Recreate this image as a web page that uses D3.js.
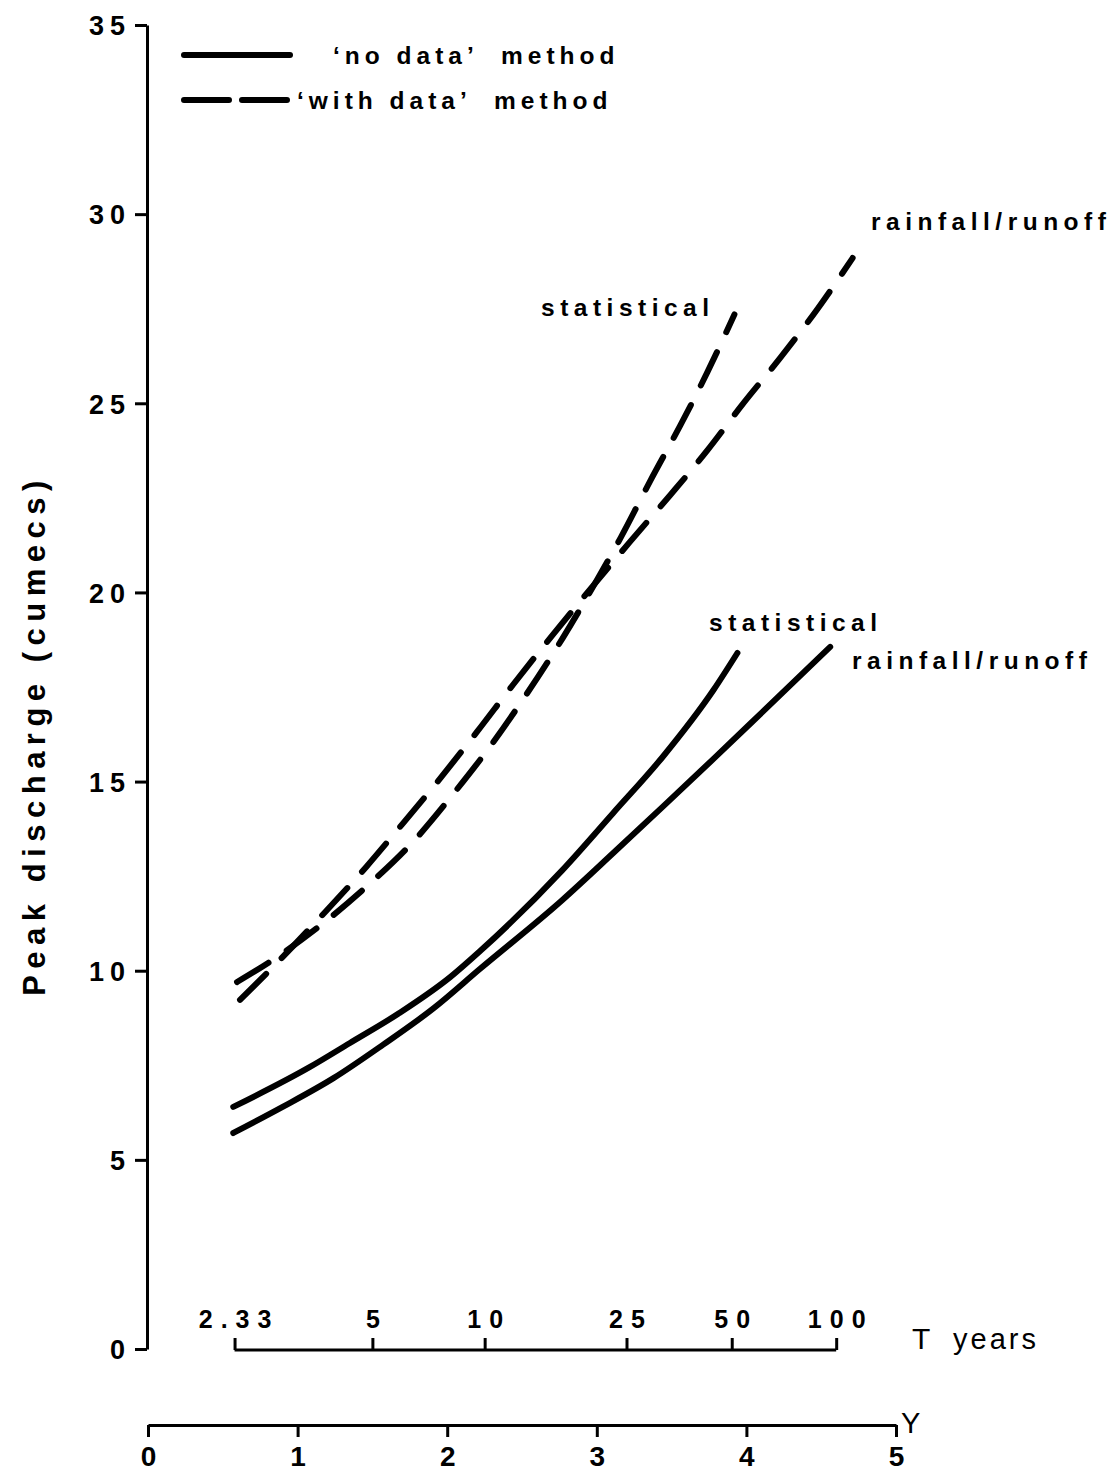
<!DOCTYPE html>
<html>
<head>
<meta charset="utf-8">
<script src="https://cdn.jsdelivr.net/npm/d3@7"></script>
<style>
  html, body { margin: 0; padding: 0; background: #fff; }
  svg text { font-family: "Liberation Sans", Arial, sans-serif; font-weight: bold; fill: #000; white-space: pre; }
</style>
</head>
<body>
<svg id="chart" width="1113" height="1472"></svg>
<script>
// ---- Data (reduced variate Y on x, peak discharge in cumecs on y) ----
const qTicks = [0, 5, 10, 15, 20, 25, 30, 35];
const yTicks = [0, 1, 2, 3, 4, 5];
const tValues = [2.33, 5, 10, 25, 50, 100];
const tLabels = ["2.33", "5", "10", "25", "50", "100"];

// 'no data' method
const noDataStatY = [0.57, 1.08, 1.35, 1.68, 2.02, 2.22, 2.77, 3.11, 3.44, 3.78, 3.94];
const noDataStatQ = [6.40, 7.45, 8.09, 8.88, 9.83, 10.52, 12.66, 14.17, 15.65, 17.42, 18.40];
const noDataRainY = [0.57, 0.90, 1.24, 1.57, 1.91, 2.22, 2.77, 3.11, 3.44, 3.78, 4.11, 4.56];
const noDataRainQ = [5.71, 6.40, 7.16, 8.04, 9.01, 10.05, 11.87, 13.11, 14.33, 15.60, 16.85, 18.56];

// 'with data' method
const withDataStatY = [0.595, 0.84, 1.16, 1.46, 1.77, 2.05, 2.30, 2.52, 2.77, 3.02, 3.16, 3.36, 3.56, 3.74, 3.92];
const withDataStatQ = [9.70, 10.30, 11.22, 12.22, 13.40, 14.72, 16.00, 17.25, 18.78, 20.46, 21.45, 22.97, 24.43, 25.83, 27.35];
const withDataRainY = [0.615, 0.86, 1.16, 1.46, 1.68, 1.94, 2.20, 2.44, 2.70, 2.98, 3.22, 3.49, 3.74, 3.97, 4.23, 4.48, 4.71];
const withDataRainQ = [9.23, 10.20, 11.45, 12.75, 13.78, 15.02, 16.32, 17.56, 18.85, 20.20, 21.33, 22.57, 23.76, 24.95, 26.22, 27.52, 28.84];

const legendLabels = ["\u2018no data\u2019  method", "\u2018with data\u2019  method"];

// ---- Scales ----
const svg = d3.select("#chart");
const x = d3.scaleLinear().domain([0, 5]).range([148, 896]);
const y = d3.scaleLinear().domain([0, 35]).range([1349, 25]);
const gumbel = T => -Math.log(-Math.log(1 - 1 / T));

// ---- Left axis (peak discharge) ----
const gLeft = svg.append("g").attr("transform", "translate(147,0)")
  .call(d3.axisLeft(y).tickValues(qTicks).tickSize(12).tickSizeOuter(0).tickPadding(10).tickFormat(d3.format("d")));
gLeft.select(".domain").attr("stroke-width", 3);
gLeft.selectAll(".tick line").attr("stroke-width", 3);
gLeft.selectAll(".tick text").style("font-size", "27px").style("letter-spacing", "6px").attr("dx", "6px").attr("dy", "0.36em");

// ---- Y (reduced variate) axis ----
const gY = svg.append("g").attr("transform", "translate(0,1425)")
  .call(d3.axisBottom(x).tickValues(yTicks).tickSize(12).tickSizeOuter(0).tickPadding(9).tickFormat(d3.format("d")));
gY.select(".domain").attr("stroke-width", 3);
gY.selectAll(".tick line").attr("stroke-width", 3);
gY.selectAll(".tick text").style("font-size", "28px");
svg.append("text").attr("x", 901).attr("y", 1433).style("font-size", "29px").style("font-weight", "normal").text("Y");

// ---- T years axis ----
const gT = svg.append("g").attr("transform", "translate(0,1350)")
  .call(d3.axisTop(x).tickValues(tValues.map(gumbel)).tickSize(12).tickPadding(10).tickFormat((d, i) => tLabels[i]));
gT.select(".domain").remove();
gT.selectAll(".tick line").attr("stroke-width", 3);
gT.selectAll(".tick text").style("font-size", "25px").style("letter-spacing", "8px").attr("dx", "4px");
svg.append("line")
  .attr("x1", x(gumbel(tValues[0]))).attr("x2", x(gumbel(tValues[tValues.length - 1])))
  .attr("y1", 1350).attr("y2", 1350).attr("stroke", "#000").attr("stroke-width", 3);
svg.append("text").attr("x", 912).attr("y", 1349).style("font-size", "30px").style("font-weight", "normal").text("T");
svg.append("text").attr("x", 953).attr("y", 1349).style("font-size", "29px").style("font-weight", "normal").style("letter-spacing", "3px").text("years");

// ---- Y axis title ----
svg.append("text")
  .attr("transform", "translate(45,735) rotate(-90)")
  .attr("text-anchor", "middle")
  .style("font-size", "31px").style("letter-spacing", "6.5px")
  .text("Peak discharge (cumecs)");

// ---- Curves ----
const line = d3.line().x(d => x(d[0])).y(d => y(d[1])).curve(d3.curveMonotoneX);
const zipS = (a, b) => a.map((v, i) => [v, b[i]]);
const series = [
  { pts: zipS(noDataStatY, noDataStatQ), dashed: false },
  { pts: zipS(noDataRainY, noDataRainQ), dashed: false },
  { pts: zipS(withDataStatY, withDataStatQ), dashed: true },
  { pts: zipS(withDataRainY, withDataRainQ), dashed: true }
];
svg.append("g").selectAll("path").data(series).join("path")
  .attr("d", d => line(d.pts))
  .attr("fill", "none").attr("stroke", "#000").attr("stroke-width", 6)
  .attr("stroke-linecap", "round")
  .attr("stroke-dasharray", d => d.dashed ? "37 22" : null);

// ---- Curve labels ----
const labels = [
  { t: "statistical", X: 541, Y: 316 },
  { t: "rainfall/runoff", X: 871, Y: 230 },
  { t: "statistical", X: 709, Y: 631 },
  { t: "rainfall/runoff", X: 852, Y: 669 }
];
svg.append("g").selectAll("text").data(labels).join("text")
  .attr("x", d => d.X).attr("y", d => d.Y)
  .style("font-size", "24.5px").style("letter-spacing", "5.5px")
  .text(d => d.t);

// ---- Legend ----
const lg = svg.append("g");
lg.append("line").attr("x1", 184).attr("x2", 290).attr("y1", 55).attr("y2", 55)
  .attr("stroke", "#000").attr("stroke-width", 6).attr("stroke-linecap", "round");
lg.append("line").attr("x1", 184).attr("x2", 290).attr("y1", 100).attr("y2", 100)
  .attr("stroke", "#000").attr("stroke-width", 6).attr("stroke-linecap", "round")
  .attr("stroke-dasharray", "45 13");
lg.append("text").attr("x", 333).attr("y", 64).style("font-size", "24.5px").style("letter-spacing", "5px").text(legendLabels[0]);
lg.append("text").attr("x", 297).attr("y", 109).style("font-size", "24.5px").style("letter-spacing", "5px").text(legendLabels[1]);
</script>
</body>
</html>
